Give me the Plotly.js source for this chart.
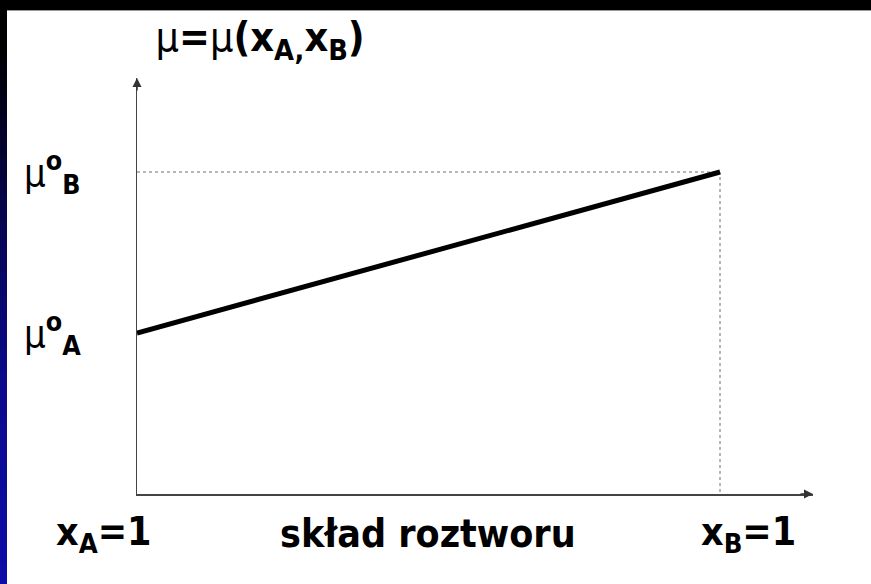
<!DOCTYPE html>
<html>
<head>
<meta charset="utf-8">
<script src="https://cdn.plot.ly/plotly-3.0.1.min.js"></script>
<style>
  html, body { margin: 0; padding: 0; width: 871px; height: 584px; background: #000; overflow: hidden; }
  #edge { position: absolute; left: 0; top: 0; width: 7px; height: 584px;
          background: linear-gradient(to bottom, #000 0%, #000 8%, #05054a 35%, #0a0a8c 65%, #0c0ca8 100%); }
  #chart { position: absolute; left: 7px; top: 10px; width: 864px; height: 574px; background: #fff;
           border-top: 1px solid #9a9a9a; box-sizing: border-box; }
</style>
</head>
<body>
<div id="edge"></div>
<div id="chart"></div>
<script>
// composition axis: mole fraction of B (0 = pure A, 1 = pure B)
const composition = [0, 1];
// chemical potential of the pure components (arbitrary units)
const muPure = [1, 2];          // [mu°A, mu°B]
const MU = '<span style="font-weight:normal">μ</span>';
const yTickText = [MU + '<sup>o</sup><sub>B</sub>', MU + '<sup>o</sup><sub>A</sub>'];
const xLabels = ['x<sub>A</sub>=1', 'skład roztworu', 'x<sub>B</sub>=1'];
const titleText = MU + '=' + MU + '(x<sub>A,</sub>x<sub>B</sub>)';

const FONT = 'DejaVu Sans Condensed, DejaVu Sans, sans-serif';
const xMax = 1.1595, yMax = 2.584;

const traces = [
  { // dotted guides from the pure-B point to both axes
    x: [composition[0], composition[1], composition[1]],
    y: [muPure[1], muPure[1], 0],
    mode: 'lines', line: { color: '#6e6e6e', width: 1, dash: 'dot' },
    hoverinfo: 'skip', showlegend: false
  },
  { // mu as a function of composition
    x: composition, y: muPure,
    mode: 'lines', line: { color: '#000', width: 5 },
    showlegend: false, cliponaxis: false
  }
];

const lbl = (text, x, y, xref, yref, xanchor, size) => ({
  text, x, y, xref, yref, xanchor: xanchor || 'center', yanchor: 'middle', showarrow: false,
  font: { family: FONT, size: size || 39, color: '#000', weight: 'bold' }
});

const annotations = [
  lbl(yTickText[0], -0.17, muPure[1], 'paper', 'y', 'left', 38),
  lbl(yTickText[1], -0.17, muPure[0], 'paper', 'y', 'left', 38),
  lbl(xLabels[0], -0.05, -0.095, 'paper', 'paper'),
  lbl(xLabels[1], 0.431, -0.095, 'paper', 'paper'),
  lbl(xLabels[2], 0.905, -0.095, 'paper', 'paper'),
  // axis arrowheads
  { x: xMax, y: 0, xref: 'x', yref: 'y', ax: -14, ay: 0, showarrow: true, arrowhead: 2,
    arrowsize: 1.2, arrowwidth: 1.5, arrowcolor: '#333', text: '' },
  { x: 0, y: yMax, xref: 'x', yref: 'y', ax: 0, ay: 14, showarrow: true, arrowhead: 2,
    arrowsize: 1.2, arrowwidth: 1.5, arrowcolor: '#333', text: '' }
];

const layout = {
  width: 864, height: 574,
  margin: { l: 130, r: 58, t: 67, b: 91 },
  paper_bgcolor: '#fff', plot_bgcolor: '#fff',
  title: {
    text: titleText, xref: 'container', yref: 'container',
    x: 0.293, xanchor: 'center', y: 0.955, yanchor: 'middle',
    font: { family: FONT, size: 41, color: '#000', weight: 'bold' }
  },
  xaxis: { range: [0, xMax], showline: true, linecolor: '#444', linewidth: 1.5,
           showgrid: false, zeroline: false, showticklabels: false, ticks: '' },
  yaxis: { range: [0, yMax], showline: true, linecolor: '#444', linewidth: 1.5,
           showgrid: false, zeroline: false, showticklabels: false, ticks: '' },
  annotations
};

Plotly.newPlot('chart', traces, layout, { displayModeBar: false, staticPlot: true });
</script>
</body>
</html>
